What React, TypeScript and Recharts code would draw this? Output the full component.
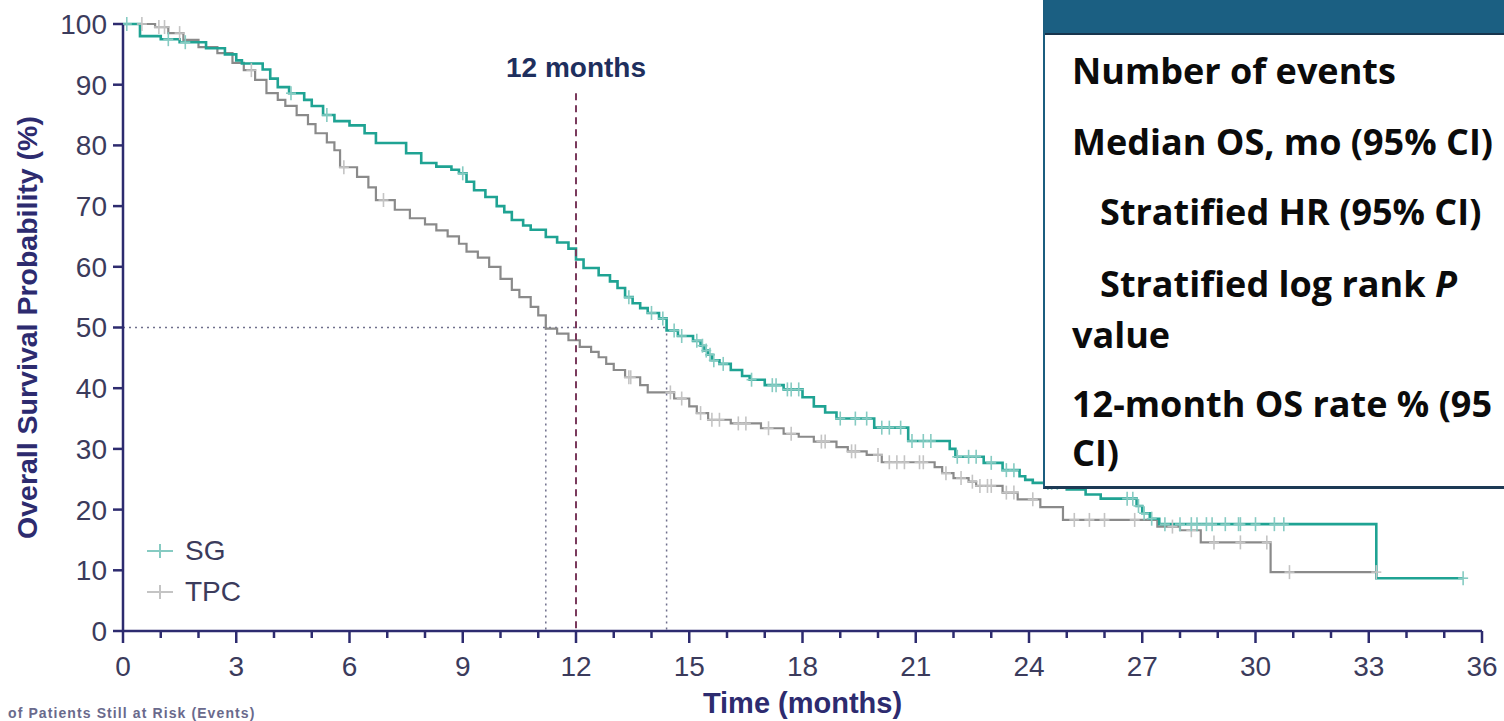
import React from "react";
import { LineChart, Line, XAxis, YAxis, ReferenceLine } from "recharts";

// [months, survival %, censored (1) or event step (0)]
const sgCurve: [number, number, number][] = [
  [0, 100, 0], [0.1, 100, 1], [0.45, 98, 0], [1.0, 97.5, 0], [1.2, 97.5, 1], [1.5, 97, 0], [1.65, 97, 1],
  [2.2, 96, 0], [2.7, 95, 0], [3.0, 94, 0], [3.15, 93.5, 0], [3.7, 92.5, 0], [3.9, 91, 0], [4.1, 89.6, 0],
  [4.4, 88.6, 0], [4.45, 88.6, 1], [4.8, 87.5, 0], [5.0, 86.5, 0], [5.3, 85, 0], [5.4, 85, 1], [5.6, 84, 0],
  [6.0, 83.3, 0], [6.4, 82, 0], [6.7, 80.4, 0], [7.5, 78.7, 0], [7.9, 77.1, 0], [8.3, 76.5, 0], [8.7, 76, 0],
  [8.9, 75.4, 0], [9.0, 75.4, 1], [9.1, 74, 0], [9.3, 72.6, 0], [9.6, 71.5, 0], [9.9, 70, 0], [10.1, 69, 0],
  [10.3, 67.7, 0], [10.6, 66.8, 0], [10.8, 66.1, 0], [11.2, 64.9, 0], [11.5, 64, 0], [11.8, 63, 0],
  [12.0, 61.2, 0], [12.2, 59.8, 0], [12.6, 58.6, 0], [12.9, 57.6, 0], [13.1, 56.5, 0], [13.3, 55, 0],
  [13.4, 55, 1], [13.5, 54, 0], [13.7, 53.2, 0], [13.9, 52.4, 0], [14.0, 52.4, 1], [14.2, 51.5, 0],
  [14.3, 51.5, 1], [14.4, 49.5, 0], [14.6, 49.5, 1], [14.7, 48.6, 0], [14.8, 48.6, 1], [15.1, 47.8, 0],
  [15.2, 47.8, 1], [15.3, 47, 0], [15.35, 47, 1], [15.4, 46.2, 0], [15.45, 46.2, 1], [15.5, 45.5, 0],
  [15.55, 45.5, 1], [15.6, 44.6, 0], [15.65, 44.6, 1], [15.8, 44, 0], [15.9, 44, 1], [16.1, 43, 0],
  [16.4, 42, 0], [16.6, 41.4, 0], [16.65, 41.4, 1], [17.0, 40.5, 0], [17.2, 40.5, 1], [17.3, 40.5, 1],
  [17.5, 39.8, 0], [17.6, 39.8, 1], [17.7, 39.8, 1], [17.9, 39.8, 1], [18.0, 38.5, 0], [18.3, 37, 0],
  [18.6, 36, 0], [18.9, 35, 0], [19.0, 35, 1], [19.4, 35, 1], [19.7, 35, 1], [19.9, 33.5, 0],
  [20.1, 33.5, 1], [20.3, 33.5, 1], [20.6, 33.5, 1], [20.8, 31.3, 0], [20.9, 31.3, 1], [21.2, 31.3, 1],
  [21.4, 31.3, 1], [21.9, 30, 0], [22.05, 28.7, 0], [22.1, 28.7, 1], [22.4, 28.7, 1], [22.6, 28.7, 1],
  [22.8, 27.7, 0], [23.0, 27.7, 1], [23.3, 26.5, 0], [23.4, 26.5, 1], [23.6, 26.5, 1], [23.75, 25.5, 0],
  [23.9, 24.9, 0], [24.1, 24.4, 0], [24.5, 24.4, 1], [24.6, 24.4, 1], [24.75, 24.4, 1], [25.0, 23.3, 0],
  [25.5, 22.5, 0], [25.9, 21.8, 0], [26.6, 21.8, 1], [26.75, 21.8, 1], [26.85, 20.6, 0], [26.9, 20.6, 1],
  [27.0, 19.4, 0], [27.05, 19.4, 1], [27.2, 18.5, 0], [27.25, 18.5, 1], [27.45, 17.6, 0], [27.6, 17.6, 1],
  [28.0, 17.6, 1], [28.3, 17.6, 1], [28.45, 17.6, 1], [28.7, 17.6, 1], [28.85, 17.6, 1], [29.2, 17.6, 1],
  [29.55, 17.6, 1], [29.6, 17.6, 1], [30.0, 17.6, 1], [30.5, 17.6, 1], [30.75, 17.6, 1], [33.2, 8.7, 0],
  [35.5, 8.7, 1],
];

const tpcCurve: [number, number, number][] = [
  [0, 100, 0], [0.5, 100, 1], [0.85, 99.5, 0], [0.95, 99.5, 1], [1.1, 99.5, 1], [1.2, 98.5, 0], [1.5, 98.5, 1],
  [1.6, 97.4, 0], [2.0, 96.2, 0], [2.5, 95.2, 0], [2.9, 93.6, 0], [3.2, 92.4, 0], [3.4, 92.4, 1], [3.5, 90.8, 0],
  [3.8, 88.6, 0], [4.1, 87.5, 0], [4.3, 86.5, 0], [4.6, 85, 0], [4.9, 83.5, 0], [5.1, 82, 0], [5.4, 80.5, 0],
  [5.6, 79.2, 0], [5.75, 76.4, 0], [5.85, 76.4, 1], [6.2, 74.8, 0], [6.5, 73.1, 0], [6.7, 71, 0], [6.9, 71, 1],
  [7.2, 69.4, 0], [7.6, 68, 0], [8.0, 67, 0], [8.3, 66, 0], [8.6, 65, 0], [8.9, 63.8, 0], [9.1, 62.5, 0],
  [9.4, 61.5, 0], [9.7, 60, 0], [10.0, 58, 0], [10.3, 56.2, 0], [10.5, 55, 0], [10.8, 53.4, 0], [11.0, 52, 0],
  [11.2, 49.8, 0], [11.5, 49, 0], [11.8, 47.9, 0], [12.1, 46.8, 0], [12.4, 46, 0], [12.6, 45.1, 0],
  [12.8, 44, 0], [13.0, 43, 0], [13.3, 41.8, 0], [13.4, 41.8, 1], [13.45, 41.8, 1], [13.7, 40.5, 0],
  [13.9, 39.3, 0], [14.5, 39.3, 1], [14.6, 38.3, 0], [14.8, 38.3, 1], [15.0, 37, 0], [15.2, 35.9, 0],
  [15.3, 35.9, 1], [15.5, 34.8, 0], [15.6, 34.8, 1], [15.8, 34.8, 1], [16.1, 34.2, 0], [16.3, 34.2, 1],
  [16.5, 34.2, 1], [16.9, 33.4, 0], [17.1, 33.4, 1], [17.5, 32.5, 0], [17.7, 32.5, 1], [17.9, 32, 0],
  [18.3, 31.2, 0], [18.5, 31.2, 1], [18.6, 31.2, 1], [18.9, 30.3, 0], [19.2, 29.6, 0], [19.3, 29.6, 1],
  [19.4, 29.6, 1], [19.7, 29, 0], [20.0, 29, 1], [20.1, 27.8, 0], [20.3, 27.8, 1], [20.5, 27.8, 1],
  [20.7, 27.8, 1], [21.1, 27.8, 1], [21.2, 27.8, 1], [21.5, 27, 0], [21.7, 26, 0], [21.8, 26, 1],
  [22.0, 25.2, 0], [22.2, 25.2, 1], [22.4, 24.6, 0], [22.5, 24.6, 1], [22.6, 23.9, 0], [22.7, 23.9, 1],
  [22.9, 23.9, 1], [23.0, 23.9, 1], [23.3, 22.8, 0], [23.4, 22.8, 1], [23.6, 22.8, 1], [23.7, 21.7, 0],
  [24.1, 21.7, 1], [24.3, 20.4, 0], [24.9, 18.3, 0], [25.2, 18.3, 1], [25.6, 18.3, 1], [26.0, 18.3, 1],
  [26.8, 18.3, 1], [27.4, 17.2, 0], [27.8, 17.2, 1], [28.0, 16.6, 0], [28.3, 16.6, 1], [28.55, 14.6, 0],
  [28.9, 14.6, 1], [29.6, 14.6, 1], [30.3, 14.6, 1], [30.4, 9.7, 0], [30.9, 9.7, 1], [33.2, 9.7, 1],
];

const seriesNames = ["SG", "TPC"];
const xTicks = [0, 1, 2, 3, 4, 5, 6, 7, 8, 9, 10, 11, 12, 13, 14, 15, 16, 17, 18, 19, 20, 21, 22, 23, 24, 25, 26, 27, 28, 29, 30, 31, 32, 33, 34, 35, 36];
const xMajorTicks = [0, 3, 6, 9, 12, 15, 18, 21, 24, 27, 30, 33, 36];
const yTicks = [0, 10, 20, 30, 40, 50, 60, 70, 80, 90, 100];
const medianOs = [14.4, 11.2]; // SG, TPC
const landmarkMonth = 12;
const landmarkTop = 88.6;

// rows of the summary box, already broken where the original wraps (_x_ = italic)
const tableLines = [
  ["Number of events"],
  ["Median OS, mo (95% CI)"],
  ["   Stratified HR (95% CI)"],
  ["   Stratified log rank _P_", "value"],
  ["12-month OS rate % (95", "CI)"],
];
const atRiskCaption = "of Patients Still at Risk (Events)";

const lineColors = ["#1fa393", "#8a8a8a"];
const censorColors = ["#86cbc2", "#c4c4c4"];
const navy = "#2d2b6f";
const tickGray = "#3b3b5c";
const sans = "'Liberation Sans', Arial, sans-serif";

const sgData = sgCurve.map(([t, s, c]) => ({ t, s, c }));
const tpcData = tpcCurve.map(([t, s, c]) => ({ t, s, c }));

function censorDot(color: string) {
  return (p: any) => {
    const { cx, cy, payload, index } = p;
    if (!payload || !payload.c || cx == null) return <g key={`n${index}`} />;
    return (
      <g key={`c${index}`}>
        <line x1={cx} x2={cx} y1={cy - 7} y2={cy + 7} stroke={color} strokeWidth={1.6} />
        <line x1={cx - 5} x2={cx + 5} y1={cy} y2={cy} stroke={color} strokeWidth={1.6} />
      </g>
    );
  };
}

function XTick(props: any) {
  const { x, y, payload } = props;
  const major = xMajorTicks.includes(payload.value);
  return (
    <g>
      <line x1={x} x2={x} y1={y} y2={y + (major ? 12 : 7)} stroke={navy} strokeWidth={2.5} />
      {major && (
        <text x={x} y={y + 45} textAnchor="middle" fill={tickGray} fontSize={28} fontFamily={sans}>
          {payload.value}
        </text>
      )}
    </g>
  );
}

function renderLine(s: string) {
  const parts = s.split("_");
  return parts.map((p, i) => (i % 2 ? <i key={i}>{p}</i> : <span key={i}>{p}</span>));
}

export default function App() {
  const lineCenters = [[72], [143], [213], [285, 336], [405, 454]];
  return (
    <div style={{ position: "absolute", left: 0, top: 0, width: 1504, height: 721, overflow: "hidden", background: "#fff" }}>
      <LineChart width={1504} height={721} margin={{ top: 24, right: 22, bottom: 0, left: 0 }}>
        <XAxis
          type="number"
          dataKey="t"
          domain={[0, 36]}
          ticks={xTicks}
          interval={0}
          allowDataOverflow
          height={90}
          tickSize={0}
          tickMargin={0}
          tickLine={false}
          tick={<XTick />}
          axisLine={{ stroke: navy, strokeWidth: 2.5 }}
          label={{ value: "Time (months)", position: "insideBottom", offset: 8, fill: navy, fontSize: 29, fontWeight: 700, fontFamily: sans }}
        />
        <YAxis
          type="number"
          domain={[0, 100]}
          ticks={yTicks}
          interval={0}
          width={123}
          tickSize={10}
          tickMargin={6}
          tick={{ fill: tickGray, fontSize: 28, fontFamily: sans }}
          tickLine={{ stroke: navy, strokeWidth: 2.5 }}
          axisLine={{ stroke: navy, strokeWidth: 2.5 }}
          label={{ value: "Overall Survival Probability (%)", angle: -90, position: "center", dx: -35, fill: navy, fontSize: 28.5, fontWeight: 700, fontFamily: sans }}
        />
        <ReferenceLine segment={[{ x: 0, y: 50 }, { x: medianOs[0], y: 50 }]} stroke="#6f6f8c" strokeWidth={1.5} strokeDasharray="2 4" />
        <ReferenceLine segment={[{ x: medianOs[1], y: 50 }, { x: medianOs[1], y: 0 }]} stroke="#6f6f8c" strokeWidth={1.5} strokeDasharray="2 4" />
        <ReferenceLine segment={[{ x: medianOs[0], y: 50 }, { x: medianOs[0], y: 0 }]} stroke="#6f6f8c" strokeWidth={1.5} strokeDasharray="2 4" />
        <Line
          data={tpcData}
          dataKey="s"
          name={seriesNames[1]}
          type="stepAfter"
          stroke={lineColors[1]}
          strokeWidth={2.2}
          dot={censorDot(censorColors[1])}
          activeDot={false}
          isAnimationActive={false}
        />
        <Line
          data={sgData}
          dataKey="s"
          name={seriesNames[0]}
          type="stepAfter"
          stroke={lineColors[0]}
          strokeWidth={2.6}
          dot={censorDot(censorColors[0])}
          activeDot={false}
          isAnimationActive={false}
        />
        <ReferenceLine
          segment={[{ x: landmarkMonth, y: landmarkTop }, { x: landmarkMonth, y: 0 }]}
          stroke="#7a3a5c"
          strokeWidth={2}
          strokeDasharray="7 5"
          label={{ value: `${landmarkMonth} months`, position: "top", offset: 16, fill: "#1e2f5e", fontSize: 28, fontWeight: 700, fontFamily: sans }}
        />
      </LineChart>

      {/* legend */}
      <div style={{ position: "absolute", left: 146, top: 530, fontFamily: sans, fontSize: 28, color: tickGray }}>
        {seriesNames.map((n, i) => (
          <div key={n} style={{ display: "flex", alignItems: "center", height: 41 }}>
            <svg width={28} height={20}>
              <line x1={1} x2={27} y1={10} y2={10} stroke={censorColors[i]} strokeWidth={2} />
              <line x1={14} x2={14} y1={3} y2={17} stroke={censorColors[i]} strokeWidth={2} />
            </svg>
            <span style={{ marginLeft: 11 }}>{n}</span>
          </div>
        ))}
      </div>

      {/* at-risk caption along the bottom edge */}
      <div style={{ position: "absolute", left: 8, top: 706, fontFamily: sans, fontSize: 14, lineHeight: "14px", fontWeight: 700, letterSpacing: 1.1, color: "#6a6a8c", whiteSpace: "nowrap" }}>
        {atRiskCaption}
      </div>

      {/* summary table overlay */}
      <div
        style={{
          position: "absolute",
          left: 1043,
          top: 0,
          width: 520,
          height: 489,
          boxSizing: "border-box",
          borderLeft: "2px solid #1b5d7f",
          borderBottom: "3px solid #1d3a55",
          background: "#fff",
        }}
      >
        <div style={{ height: 33, background: "#1b5f82", borderBottom: "2px solid #17344d" }} />
        {tableLines.map((row, r) =>
          row.map((ln, k) => (
            <div
              key={`${r}-${k}`}
              style={{
                position: "absolute",
                left: 27,
                top: lineCenters[r][k] - 19,
                fontFamily: "'Open Sans', sans-serif",
                fontWeight: 700,
                fontSize: 36,
                lineHeight: "36px",
                color: "#0b0b0b",
                whiteSpace: "pre",
              }}
            >
              {renderLine(ln)}
            </div>
          ))
        )}
      </div>
    </div>
  );
}
